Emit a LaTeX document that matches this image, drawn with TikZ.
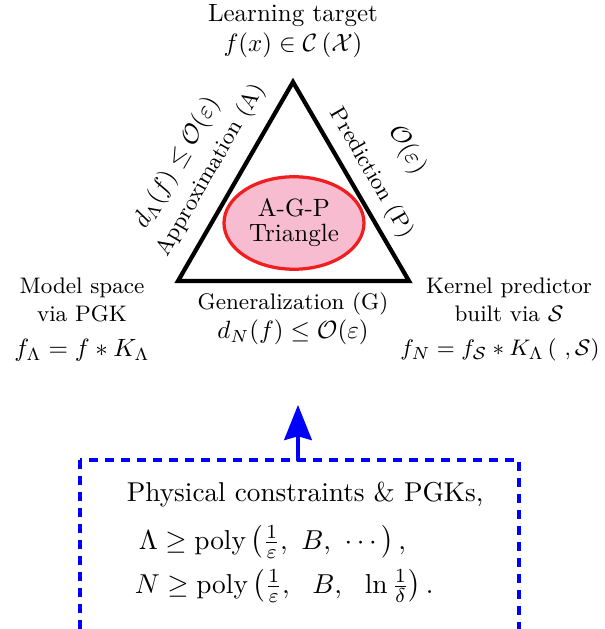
\documentclass[tikz,border=0pt]{standalone}
\usepackage{amsmath,amssymb}
\usetikzlibrary{arrows.meta,shapes.geometric}
\definecolor{agppink}{RGB}{248,188,208}
\definecolor{agpred}{RGB}{240,30,30}
\begin{document}
\begin{tikzpicture}[x=0.4pt,y=0.4pt,font=\normalsize,line join=round,line cap=round,
	sidelabel/.style={font=\small},
	boxline/.style={anchor=west,font=\fontsize{10.9}{13}\selectfont}]
	\useasboundingbox (0,0) rectangle (605,629);
	\path
	(293,547) coordinate (A)
	(178,348) coordinate (M)
	(409,348) coordinate (K)
	(80,169) coordinate (BL)
	(519,-25) coordinate (BR)
	(298,169) coordinate (boxtop)
	(298,224) coordinate (tip)
	;
	% triangle and centre
	\draw[line width=1.7pt,line join=miter] (A)--(M)--(K)--cycle;
	\node[ellipse,draw=agpred,fill=agppink,line width=1.3pt,minimum width=56pt,minimum height=37pt,
		inner sep=0pt,align=center] (agp) at (294,406) {A-G-P\\[-2pt]Triangle};
	% vertices
	\node[align=center] (target) at (293,598) {Learning target\\$f(x)\in\mathcal{C}\left(\mathcal{X}\right)$};
	\node[sidelabel] (model) at (82,341) {Model space};
	\node[sidelabel] (modelb) at (82,315) {via PGK};
	\node (fL) at (82,279) {$f_\Lambda=f*K_\Lambda$};
	\node[sidelabel] (kernel) at (509,341) {Kernel predictor};
	\node[sidelabel] (kernelb) at (509,315) {built via $\mathcal{S}$};
	\node[font=\fontsize{9.4}{11}\selectfont] (fN) at (500,279) {$f_N=f_{\mathcal{S}}*K_\Lambda\left(\ ,\mathcal{S}\right)$};
	% edges
	\node[sidelabel,rotate=60] (approx) at (211,459) {Approximation (A)};
	\node[rotate=60] (dL) at (177,466) {$d_\Lambda(f)\leq\mathcal{O}(\varepsilon)$};
	\node[sidelabel,rotate=-60] (pred) at (371,456) {Prediction (P)};
	\node[rotate=-60] (OP) at (407,479) {$\mathcal{O}(\varepsilon)$};
	\node[sidelabel] (gen) at (293,325) {Generalization (G)};
	\node (dN) at (293,297) {$d_N(f)\leq\mathcal{O}(\varepsilon)$};
	% constraints box
	\draw[blue,line width=1.6pt,dash pattern=on 3.6pt off 2.8pt,line cap=butt] (BL) rectangle (BR);
	\draw[blue,line width=1.6pt,-{Stealth[length=14pt,width=11pt,inset=1.5pt]}] (boxtop)--(tip);
	\node[boxline] (c1) at (118,134) {Physical constraints \& PGKs,};
	\node[boxline] (c2) at (130,87) {$\Lambda\geq\mathrm{poly}\left(\frac{1}{\varepsilon},\ B,\ \cdots\right),$};
	\node[boxline] (c3) at (126,43) {$N\geq\mathrm{poly}\left(\frac{1}{\varepsilon},\ \ B,\ \ \ln\frac{1}{\delta}\right).$};
\end{tikzpicture}
\end{document}
